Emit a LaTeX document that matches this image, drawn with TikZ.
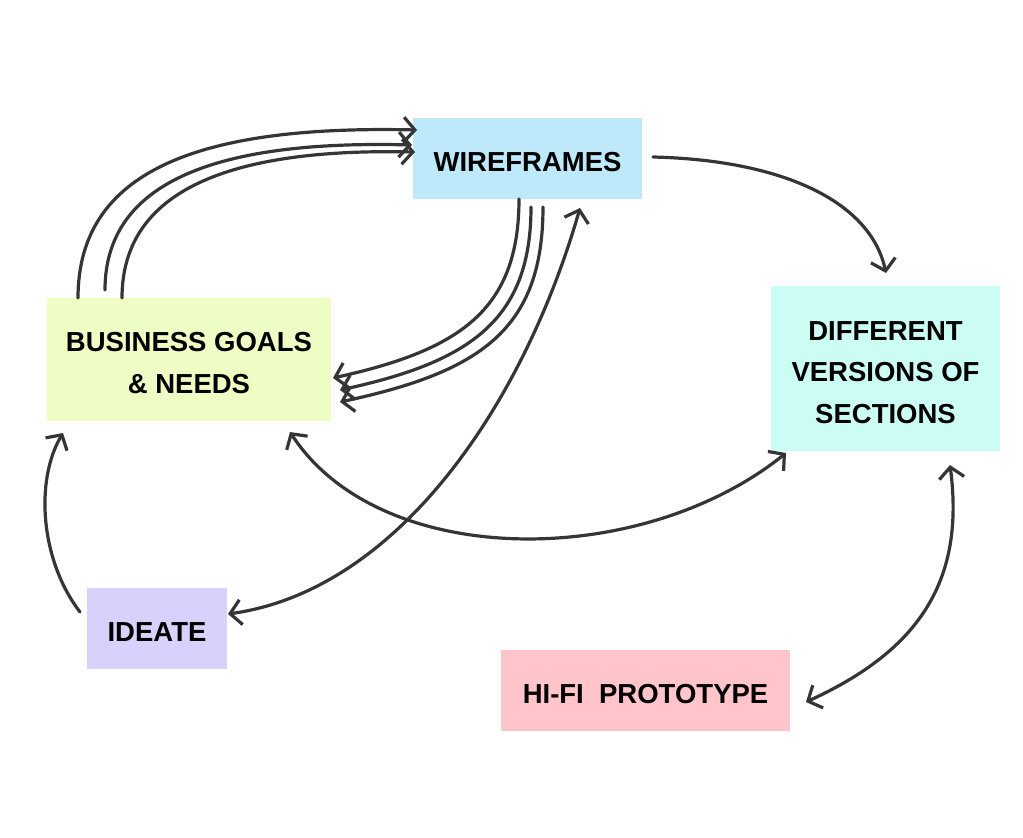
\documentclass[tikz,border=0pt]{standalone}
\usepackage{fontspec}
\setmainfont{Liberation Sans}
\usetikzlibrary{arrows.meta,calc}
\definecolor{ink}{HTML}{353535}
\definecolor{wfc}{HTML}{BEE9FB}
\definecolor{bgc}{HTML}{EEFDC4}
\definecolor{dvc}{HTML}{CCFDF4}
\definecolor{idc}{HTML}{D8D1FC}
\definecolor{hfc}{HTML}{FFC5CB}
\newcommand\tdown{\rule{0pt}{26.5pt}}
\begin{document}
\begin{tikzpicture}[x=1pt,y=-1pt,
  box/.style={inner sep=0pt, outer sep=0pt, align=center, text=black,
    font=\bfseries\fontsize{27.5}{41.5}\selectfont},
  conn/.style={draw=ink, line width=3.2pt, line cap=round, line join=round,
    -{Straight Barb[length=11pt,width=25pt]}},
  both/.style={conn, {Straight Barb[length=11pt,width=25pt]}-{Straight Barb[length=11pt,width=25pt]}}
]
\useasboundingbox (0,0) rectangle (1023,838);
\node[box, fill=wfc, minimum width=229pt, minimum height=81pt] (wf) at (527.5,158.5) {\tdown WIREFRAMES};
\node[box, fill=bgc, minimum width=284pt, minimum height=123pt] (bg) at (189,359.5) {\tdown BUSINESS GOALS\\\& NEEDS};
\node[box, fill=dvc, minimum width=229pt, minimum height=165pt] (dv) at (885.5,368.5) {\tdown DIFFERENT\\VERSIONS OF\\SECTIONS};
\node[box, fill=idc, minimum width=140pt, minimum height=81pt] (id) at (157,628.5) {\tdown IDEATE};
\node[box, fill=hfc, minimum width=289pt, minimum height=81pt] (hf) at (645.5,690.5) {\tdown HI-FI\ \ PROTOTYPE};

% business goals -> wireframes (three)
\draw[conn] ($(bg.north west)+(31,0)$) .. controls +(0,-128) and +(-217,-5) .. ($(wf.north west)+(4,12)$);
\draw[conn] ($(bg.north west)+(58,-8)$) .. controls +(0,-110) and +(-192,-5) .. ($(wf.north west)+(-1,27)$);
\draw[conn] ($(bg.north west)+(75,0)$) .. controls +(0,-108) and +(-185,-4) .. ($(wf.north west)+(2,34)$);

% wireframes -> business goals (three)
\draw[conn] ($(wf.south west)+(106,0)$) .. controls +(0,111) and +(127,-28) .. ($(bg.south east)+(2,-43)$);
\draw[conn] ($(wf.south west)+(118,8)$) .. controls +(0,113) and +(130,-28) .. ($(bg.south east)+(9,-31)$);
\draw[conn] ($(wf.south west)+(130,8)$) .. controls +(0,123) and +(140,-30) .. ($(bg.south east)+(9,-19)$);

% wireframes <-> ideate
\draw[both] ($(wf.south west)+(167,9)$) .. controls +(-55,192) and +(172,-24) .. ($(id.north east)+(1,26)$);

% business goals <-> different versions
\draw[both] ($(bg.south east)+(-41,11)$) .. controls +(90,138) and +(-146,117) .. ($(dv.south west)+(15,2)$);

% wireframes -> different versions
\draw[conn] ($(wf.north east)+(11,39)$) .. controls +(127,3) and +(-16,-73) .. ($(dv.north west)+(115,-13)$);

% ideate -> business goals
\draw[conn] ($(id.north west)+(-7,24)$) .. controls +(-40,-52) and +(-28,47) .. ($(bg.south west)+(16,12)$);

% different versions <-> hi-fi prototype
\draw[both] ($(dv.south west)+(179,14)$) .. controls +(15,115) and +(114,-52) .. ($(hf.north east)+(16,52)$);
\end{tikzpicture}
\end{document}
